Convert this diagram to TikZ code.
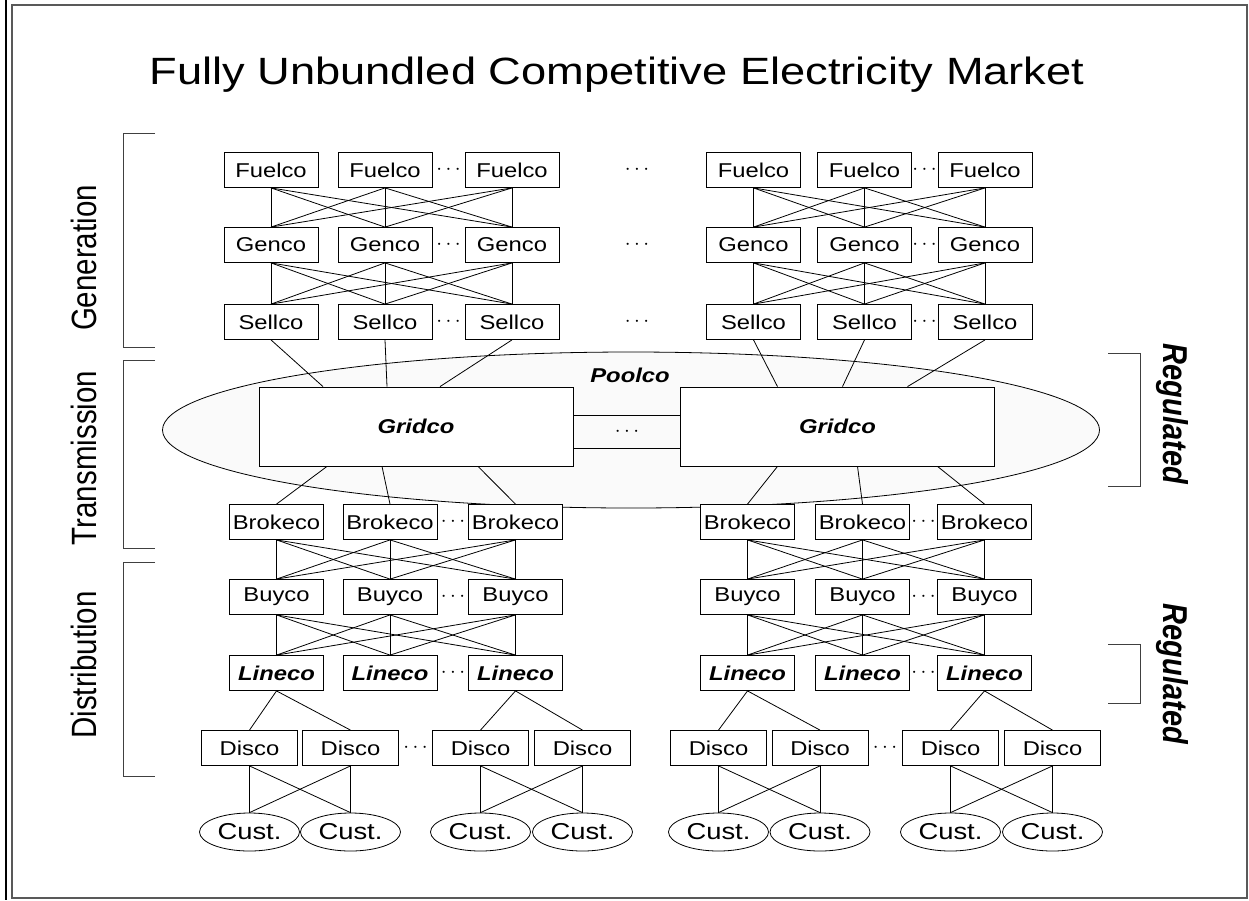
\documentclass[tikz,border=0pt]{standalone}
\usepackage{fontspec}
\setmainfont{Liberation Sans}[FakeStretch=1.19]
\newfontfamily\sidefont{Liberation Sans}
\usepackage{graphicx}
\usetikzlibrary{shapes.geometric}

\newcommand{\sidetext}[1]{\scalebox{1}[1.19]{#1}}

\begin{document}
\begin{tikzpicture}[x=1pt, y=-1pt,
  firm/.style={draw, line width=0.8pt, fill=white, minimum width=94pt,
    minimum height=35pt, inner sep=0pt, font=\fontsize{20}{24}\selectfont},
  regfirm/.style={firm, font=\fontsize{20}{24}\selectfont\bfseries\itshape},
  disco/.style={firm, minimum width=96pt},
  cust/.style={ellipse, draw, line width=0.8pt, minimum width=100pt,
    minimum height=38pt, inner sep=0pt, font=\fontsize{23}{27}\selectfont},
  gridbox/.style={draw, line width=0.8pt, fill=white, minimum width=314pt,
    minimum height=79pt, font=\fontsize{20}{24}\selectfont\bfseries\itshape},
  dots/.style={inner sep=0pt, font=\fontsize{20}{24}\selectfont},
  link/.style={line width=0.8pt},
  bracket/.style={line width=0.9pt, draw=black!75},
  sidelabel/.style={rotate=90, font=\sidefont\fontsize{29.5}{34}\selectfont},
  reglabel/.style={rotate=-90, font=\sidefont\fontsize{29}{34}\selectfont\bfseries\itshape}]

  \useasboundingbox (0,0) rectangle (1249,900);
  \draw [black!65, line width=1.5pt] (12,5) rectangle (1247,898);
  \draw [line width=2pt] (6,0) -- (6,900);

  \node (title) at (617,75) {\fontsize{38}{44}\selectfont Fully Unbundled Competitive Electricity Market};

  % side brackets
  \draw [bracket] (155,133) -- (123,133) -- (123,347) -- (155,347);
  \draw [bracket] (155,360) -- (123,360) -- (123,548) -- (155,548);
  \draw [bracket] (155,562) -- (123,562) -- (123,776) -- (155,776);
  \node (gen) [sidelabel] at (84,258) {\sidetext{Generation}};
  \node (trans) [sidelabel] at (84,458) {\sidetext{Transmission}};
  \node (dist) [sidelabel] at (84,665) {\sidetext{Distribution}};

  \draw [bracket] (1108,353) -- (1140,353) -- (1140,486) -- (1108,486);
  \draw [bracket] (1108,644) -- (1140,644) -- (1140,703) -- (1108,703);
  \node (reg1) [reglabel] at (1172,414) {\sidetext{Regulated}};
  \node (reg2) [reglabel] at (1172,674) {\sidetext{Regulated}};

  % pool and grids
  \node (pool) [ellipse, draw, line width=0.8pt, fill=black!2, minimum width=937pt,
    minimum height=156pt] at (631,430) {};
  \node (poolname) at (630,375) {\fontsize{20}{24}\selectfont\bfseries\itshape Poolco};
  \node (grL) [gridbox] at (416,426.5) {Gridco};
  \node (grR) [gridbox] at (837.5,426.5) {Gridco};

  % generation side
  \foreach \n/\xl/\xr in {1/271/753.5, 2/385/864.5, 3/512/985} {
    \node (fuL\n) [firm] at (\xl,170) {Fuelco};
    \node (geL\n) [firm] at (\xl,245) {Genco};
    \node (seL\n) [firm] at (\xl,322) {Sellco};
    \node (fuR\n) [firm] at (\xr,170) {Fuelco};
    \node (geR\n) [firm] at (\xr,245) {Genco};
    \node (seR\n) [firm] at (\xr,322) {Sellco};
  }

  % distribution side
  \foreach \n/\xl/\xr in {1/276.5/747.5, 2/390/862.5, 3/515.5/984.5} {
    \node (brL\n) [firm] at (\xl,522) {Brokeco};
    \node (buL\n) [firm] at (\xl,597) {Buyco};
    \node (liL\n) [regfirm] at (\xl,673) {Lineco};
    \node (brR\n) [firm] at (\xr,522) {Brokeco};
    \node (buR\n) [firm] at (\xr,597) {Buyco};
    \node (liR\n) [regfirm] at (\xr,673) {Lineco};
  }

  \foreach \n/\xl/\xr in {1/249.5/718.5, 2/350.5/820, 3/480.5/950.5, 4/582.5/1052.5} {
    \node (diL\n) [disco] at (\xl,748) {Disco};
    \node (cuL\n) [cust] at (\xl,832) {Cust.};
    \node (diR\n) [disco] at (\xr,748) {Disco};
    \node (cuR\n) [cust] at (\xr,832) {Cust.};
  }

  % dots
  \foreach \y in {170,245,322} {
    \node (dotsL\y) [dots] at (448.5,\y) {$\cdots$};
    \node (dotsM\y) [dots] at (637,\y) {$\cdots$};
    \node (dotsR\y) [dots] at (924.5,\y) {$\cdots$};
  }
  \foreach \y in {522,597,673} {
    \node (dotsBL\y) [dots] at (453,\y) {$\cdots$};
    \node (dotsBR\y) [dots] at (923.5,\y) {$\cdots$};
  }
  \node (dotsDL) [dots] at (415.5,748) {$\cdots$};
  \node (dotsDR) [dots] at (885,748) {$\cdots$};
  \node (dotsG) [dots] at (627,432) {$\cdots$};

  % trading links
  \foreach \s in {L,R}
    \foreach \i in {1,2,3}
      \foreach \j in {1,2,3} {
        \draw [link] (fu\s\i.south) -- (ge\s\j.north);
        \draw [link] (ge\s\i.south) -- (se\s\j.north);
        \draw [link] (br\s\i.south) -- (bu\s\j.north);
        \draw [link] (bu\s\i.south) -- (li\s\j.north);
      }

  % grid links
  \draw [link] (seL1.south) -- ([xshift=-93pt]grL.north);
  \draw [link] (seL2.south) -- ([xshift=-29pt]grL.north);
  \draw [link] (seL3.south) -- ([xshift=24pt]grL.north);
  \draw [link] (seR1.south) -- ([xshift=-60pt]grR.north);
  \draw [link] (seR2.south) -- ([xshift=5pt]grR.north);
  \draw [link] (seR3.south) -- ([xshift=70pt]grR.north);
  \draw [link] ([xshift=-89pt]grL.south) -- (brL1.north);
  \draw [link] ([xshift=-34pt]grL.south) -- (brL2.north);
  \draw [link] ([xshift=62pt]grL.south) -- (brL3.north);
  \draw [link] ([xshift=-60pt]grR.south) -- (brR1.north);
  \draw [link] ([xshift=20pt]grR.south) -- (brR2.north);
  \draw [link] ([xshift=100pt]grR.south) -- (brR3.north);
  \draw [link] ([yshift=11.5pt]grL.east) -- ([yshift=11.5pt]grR.west);
  \draw [link] ([yshift=-21.5pt]grL.east) -- ([yshift=-21.5pt]grR.west);

  % local links
  \foreach \s in {L,R} {
    \draw [link] (li\s1.south) -- (di\s1.north);
    \draw [link] (li\s1.south) -- (di\s2.north);
    \draw [link] (li\s3.south) -- (di\s3.north);
    \draw [link] (li\s3.south) -- (di\s4.north);
    \foreach \a/\b in {1/2, 3/4} {
      \draw [link] (di\s\a.south) -- (cu\s\a.north);
      \draw [link] (di\s\a.south) -- (cu\s\b.north);
      \draw [link] (di\s\b.south) -- (cu\s\a.north);
      \draw [link] (di\s\b.south) -- (cu\s\b.north);
    }
  }
\end{tikzpicture}
\end{document}
